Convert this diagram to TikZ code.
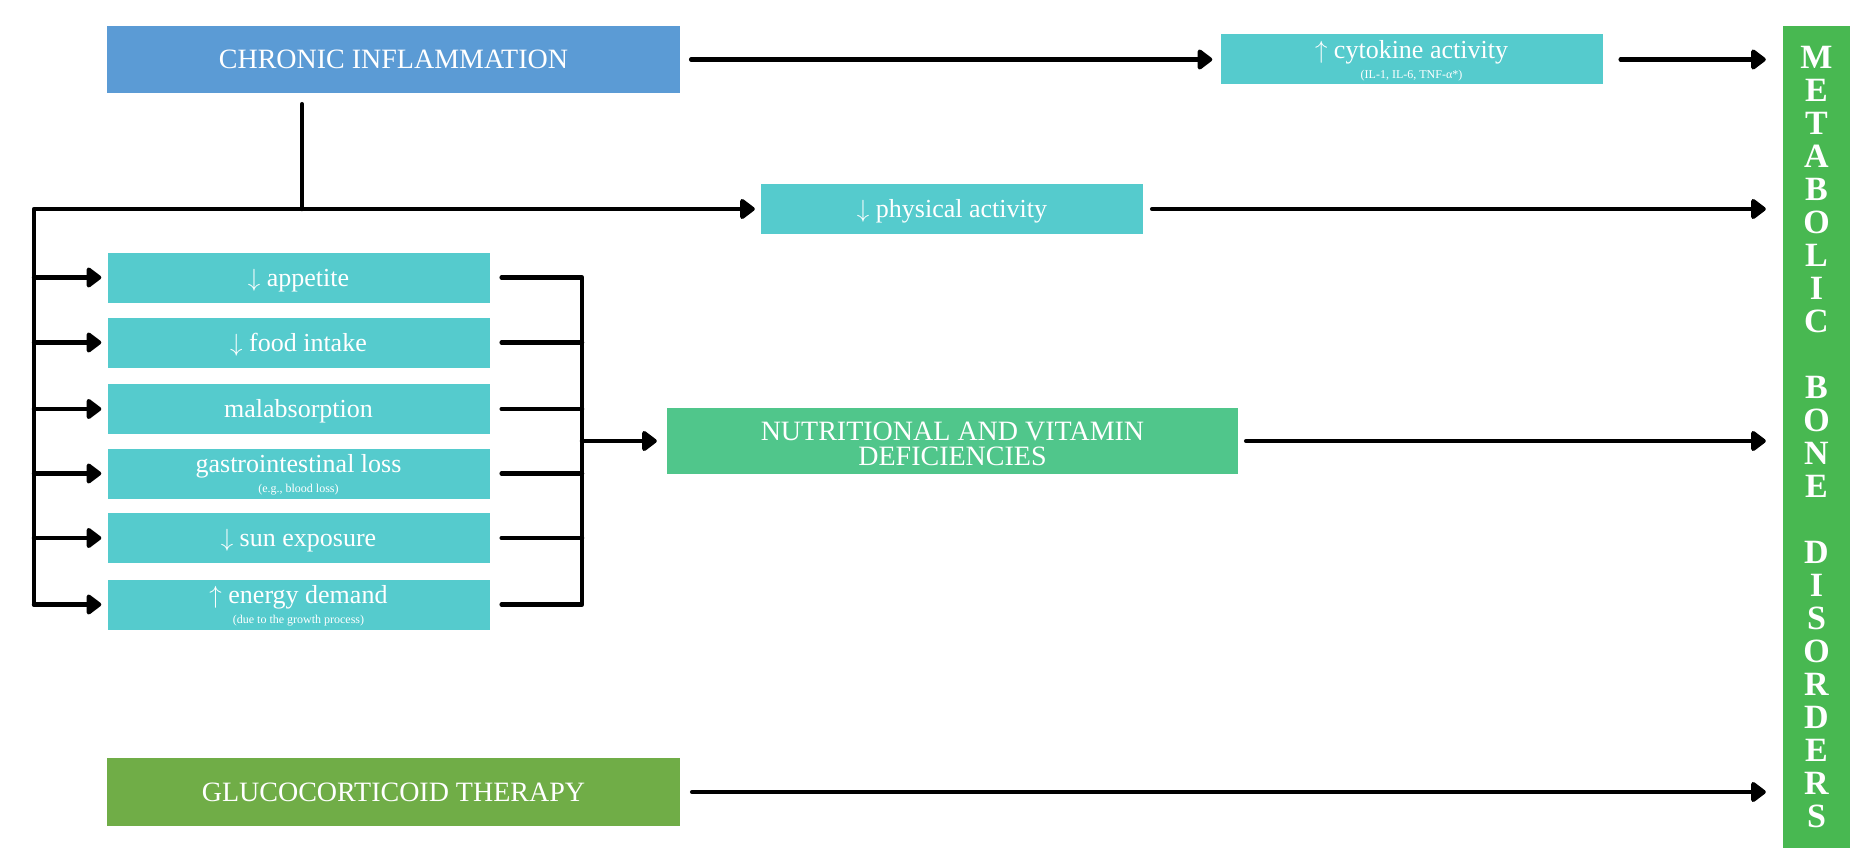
\documentclass[tikz,border=0pt]{standalone}
\usepackage{fontspec}
\setmainfont{Liberation Serif}
\usetikzlibrary{arrows.meta}

\definecolor{infblue}{HTML}{5B9BD5}
\definecolor{boxteal}{HTML}{55CBCD}
\definecolor{nutgreen}{HTML}{50C68B}
\definecolor{gcgreen}{HTML}{70AD47}
\definecolor{mbdgreen}{HTML}{48B851}

\tikzset{
  box/.style={inner sep=0pt, text=white, align=center, text depth=0pt},
  bigbox/.style={box, minimum width=573pt, minimum height=67pt, text height=18.5pt, font=\fontsize{28}{25}\selectfont},
  tealbox/.style={box, fill=boxteal, minimum width=382pt, minimum height=50pt, text height=17pt, font=\fontsize{26}{20}\selectfont},
  ln/.style={line width=4.5pt, line cap=round, line join=round},
  arr/.style={ln, -{Triangle[length=16pt,width=23pt,round]}},
}
\newcommand{\subtxt}[1]{{\fontsize{12}{14}\selectfont #1}}
\newcommand{\darr}{$\downarrow$}
\newcommand{\uarr}{$\uparrow$}

\begin{document}
\begin{tikzpicture}[x=1pt,y=-1pt]
\useasboundingbox (0,0) rectangle (1850,848);
% boxes
\node[bigbox, fill=infblue] (ci) at (393.5,59.5) {CHRONIC INFLAMMATION};
\node[tealbox, text height=39pt] (cyto) at (1411.5,59.5) {\uarr{} cytokine activity\\\subtxt{(IL-1, IL-6, TNF-α*)}};
\node[tealbox] (phys) at (952,209) {\darr{} physical activity};
\node[tealbox] (app) at (298.5,277.5) {\darr{} appetite};
\node[tealbox] (food) at (298.5,342.5) {\darr{} food intake};
\node[tealbox] (malab) at (298.5,409) {malabsorption};
\node[tealbox, text height=37pt] (gi) at (298.5,473.5) {gastrointestinal loss\\\subtxt{(e.g., blood loss)}};
\node[tealbox] (sun) at (298.5,538) {\darr{} sun exposure};
\node[tealbox, text height=37pt] (energy) at (298.5,604.5) {\uarr{} energy demand\\\subtxt{(due to the growth process)}};
\node[bigbox, fill=nutgreen, minimum width=571pt, minimum height=66pt, text height=48pt] (nutr) at (952.5,441) {NUTRITIONAL AND VITAMIN\\DEFICIENCIES};
\node[bigbox, fill=gcgreen, minimum height=68pt] (gluco) at (393.5,792) {GLUCOCORTICOID THERAPY};
\node[inner sep=0pt, text=white, align=center, fill=mbdgreen, minimum width=67pt, minimum height=822pt, font=\bfseries\fontsize{34}{33}\selectfont] (mbd) at (1816.5,437)
  {M\\E\\T\\A\\B\\O\\L\\I\\C\\[33pt]B\\O\\N\\E\\[33pt]D\\I\\S\\O\\R\\D\\E\\R\\S};
\coordinate (corner) at (34,209);
\coordinate (split) at (302,209);
\coordinate (merge) at (582,441);

% connectors
\draw[arr, shorten <=11pt, shorten >=8pt] (ci.east) -- (cyto.west);
\draw[arr, shorten <=18pt, shorten >=17pt] (cyto.east) -- (cyto.east -| mbd.west);
\draw[ln, shorten <=11pt] (split |- ci.south) -- (split);
\draw[arr, shorten >=6pt] (corner |- energy.west) -- (corner) -- (phys.west);
\draw[arr, shorten <=9pt, shorten >=17pt] (phys.east) -- (phys.east -| mbd.west);
\foreach \n in {app,food,malab,gi,sun,energy}
  \draw[arr, shorten >=6pt] (corner |- \n.west) -- (\n.west);
\draw[ln, shorten <=12pt, shorten >=12pt] (app.east) -- (app.east -| merge) -- (energy.east -| merge) -- (energy.east);
\foreach \n in {food,malab,gi,sun}
  \draw[ln, shorten <=12pt] (\n.east) -- (\n.east -| merge);
\draw[arr, shorten >=10pt] (merge) -- (nutr.west);
\draw[arr, shorten <=8pt, shorten >=17pt] (nutr.east) -- (nutr.east -| mbd.west);
\draw[arr, shorten <=12pt, shorten >=17pt] (gluco.east) -- (gluco.east -| mbd.west);
\end{tikzpicture}
\end{document}
